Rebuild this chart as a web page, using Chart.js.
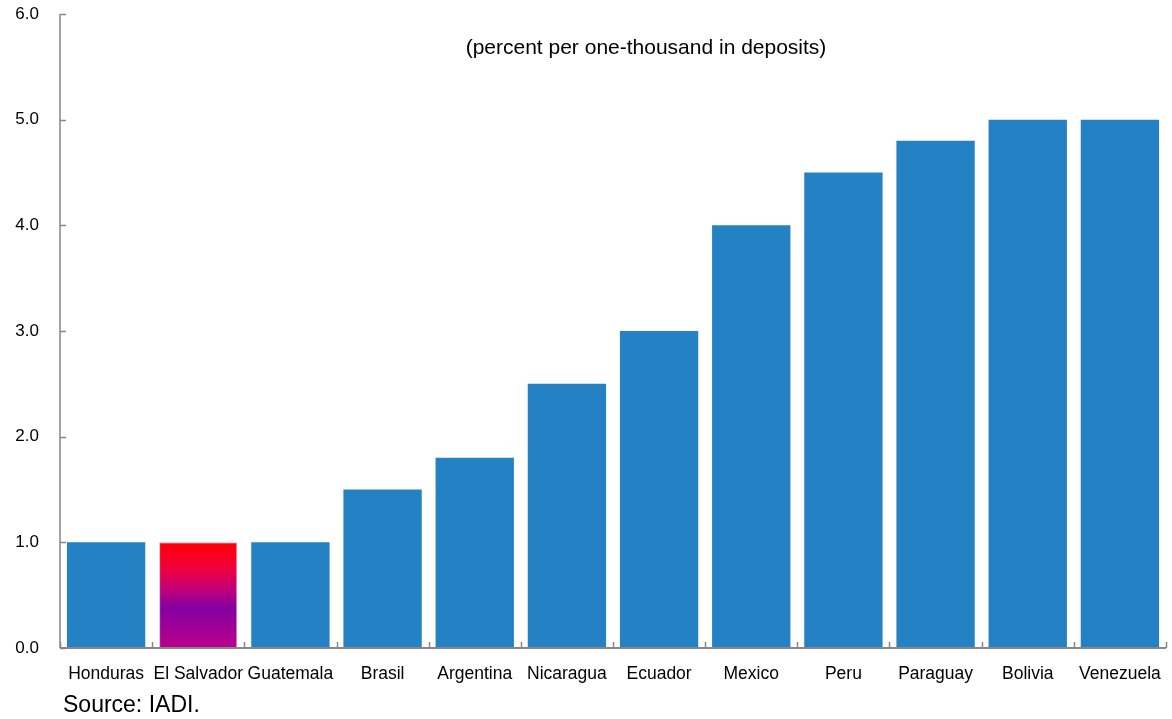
<!DOCTYPE html>
<html>
<head>
<meta charset="utf-8">
<script src="https://cdn.jsdelivr.net/npm/chart.js@4/dist/chart.umd.min.js"></script>
<style>
  html, body { margin: 0; padding: 0; background: #fff; }
  #wrap { width: 1172px; height: 719px; }
</style>
</head>
<body>
<div id="wrap"><canvas id="feeChart" width="1172" height="719"></canvas></div>
<script>
// Premium rates by country
const countries = ['Honduras', 'El Salvador', 'Guatemala', 'Brasil', 'Argentina', 'Nicaragua',
                   'Ecuador', 'Mexico', 'Peru', 'Paraguay', 'Bolivia', 'Venezuela'];
const rates = [1.0, 1.0, 1.0, 1.5, 1.8, 2.5, 3.0, 4.0, 4.5, 4.8, 5.0, 5.0];
const yTicks = [0, 1, 2, 3, 4, 5, 6];
const subtitle = '(percent per one-thousand in deposits)';
const source = 'Source: IADI.';
const highlight = 'El Salvador';

const BLUE = '#2481C3';
const AXIS = '#878787';

// gradient fill for the highlighted bar, built from the y scale
function barFill(ctx) {
    const chart = ctx.chart;
    if (countries[ctx.dataIndex] !== highlight) return BLUE;
    const y = chart.scales.y;
    if (!y || !chart.chartArea) return '#8a00a0';
    const top = y.getPixelForValue(rates[ctx.dataIndex]);
    const bottom = y.getPixelForValue(0);
    const g = chart.ctx.createLinearGradient(0, top, 0, bottom);
    g.addColorStop(0, '#ff0000');
    g.addColorStop(0.25, '#f00040');
    g.addColorStop(0.45, '#c0007a');
    g.addColorStop(0.62, '#8400a2');
    g.addColorStop(1, '#bb008c');
    return g;
}

// axis lines, inward ticks and the free text
const decorations = {
    id: 'decorations',
    afterDatasetsDraw(chart) {
        const { ctx, chartArea: a, scales: { x, y } } = chart;
        ctx.save();
        ctx.strokeStyle = AXIS;
        // y axis
        ctx.lineWidth = 1.5;
        ctx.beginPath();
        ctx.moveTo(a.left, a.top);
        ctx.lineTo(a.left, a.bottom);
        yTicks.forEach(v => {
            const py = Math.round(y.getPixelForValue(v)) + 0.5;
            ctx.moveTo(a.left, py);
            ctx.lineTo(a.left + 6, py);
        });
        ctx.stroke();
        // x axis
        ctx.lineWidth = 2;
        ctx.beginPath();
        ctx.moveTo(a.left, a.bottom);
        ctx.lineTo(a.right, a.bottom);
        ctx.stroke();
        ctx.lineWidth = 1.5;
        ctx.beginPath();
        const step = x.getPixelForValue(1) - x.getPixelForValue(0);
        for (let i = 0; i <= countries.length; i++) {
            const px = Math.round(x.getPixelForValue(i) - step / 2) + 0.5;
            ctx.moveTo(px, a.bottom);
            ctx.lineTo(px, a.bottom - 6);
        }
        ctx.stroke();

        ctx.fillStyle = '#000';
        ctx.font = '21px "Liberation Sans", Arial, sans-serif';
        ctx.textAlign = 'center';
        ctx.textBaseline = 'middle';
        ctx.fillText(subtitle, 646, 48);

        ctx.font = '23px "Liberation Sans", Arial, sans-serif';
        ctx.textAlign = 'left';
        ctx.textBaseline = 'alphabetic';
        ctx.fillText(source, 63, 712);
        ctx.restore();
    }
};

new Chart(document.getElementById('feeChart'), {
    type: 'bar',
    data: {
        labels: countries,
        datasets: [{
            data: rates,
            backgroundColor: barFill,
            borderColor: countries.map(c => c === highlight ? '#c3c8ee' : 'rgba(0,0,0,0)'),
            borderWidth: countries.map(c => c === highlight ? 1 : 0),
            borderSkipped: false,
            categoryPercentage: 1,
            barPercentage: 0.85
        }]
    },
    options: {
        responsive: false,
        animation: false,
        layout: { padding: { top: 14, right: 6, bottom: 26, left: 0 } },
        plugins: { legend: { display: false }, tooltip: { enabled: false } },
        scales: {
            x: {
                grid: { display: false },
                border: { display: false },
                ticks: {
                    color: '#000',
                    padding: 8,
                    maxRotation: 0,
                    autoSkip: false,
                    font: { family: '"Liberation Sans", Arial, sans-serif', size: 17.5 }
                }
            },
            y: {
                min: 0,
                max: 6,
                grid: { display: false },
                border: { display: false },
                ticks: {
                    stepSize: 1,
                    color: '#000',
                    padding: 13,
                    callback: v => v.toFixed(1),
                    font: { family: '"Liberation Sans", Arial, sans-serif', size: 17 }
                },
                afterFit(scale) {
                    scale.width = 60;
                    scale.paddingTop = 0;
                    scale.paddingBottom = 0;
                }
            }
        }
    },
    plugins: [decorations]
});
</script>
</body>
</html>
